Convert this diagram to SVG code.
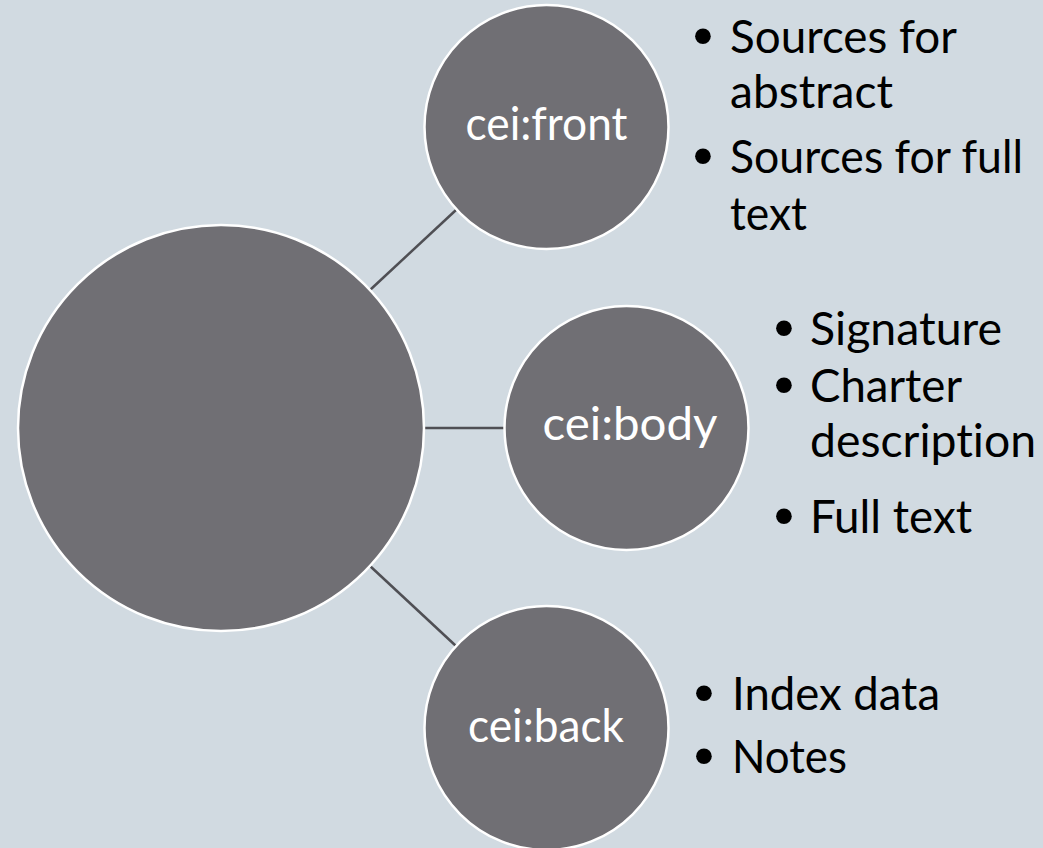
<svg xmlns="http://www.w3.org/2000/svg" width="1043" height="848" viewBox="0 0 1043 848">
  <style>
    .bg { fill: #D1DAE1; }
    .node { fill: #706F74; stroke: #FFFFFF; stroke-width: 2.5; }
    .edge { stroke: #4F4F54; stroke-width: 2.5; fill: none; }
    .label { font-family: Lato, "Open Sans", "Liberation Sans", sans-serif; font-size: 46px; fill: #FFFFFF; text-anchor: middle; font-variant-ligatures: none; }
    .item { font-family: Lato, "Open Sans", "Liberation Sans", sans-serif; font-size: 46px; fill: #000000; font-variant-ligatures: none; }
    .bullet { font-family: "DejaVu Sans", sans-serif; font-size: 54px; fill: #000000; }
  </style>
  <rect class="bg" x="0" y="0" width="1043" height="848"/>

  <g id="connectors">
    <line class="edge" x1="370" y1="290" x2="456" y2="210"/>
    <line class="edge" x1="424" y1="428" x2="505" y2="428"/>
    <line class="edge" x1="370" y1="566" x2="456" y2="646"/>
  </g>

  <g id="root">
    <circle class="node" cx="221" cy="428" r="203"/>
  </g>

  <g id="front">
    <circle class="node" cx="546.5" cy="127" r="122"/>
    <text class="label" x="546.5" y="140" textLength="162" lengthAdjust="spacingAndGlyphs">cei:front</text>
  </g>

  <g id="body">
    <circle class="node" cx="626.5" cy="428" r="122"/>
    <text class="label" x="630" y="440" textLength="175" lengthAdjust="spacingAndGlyphs">cei:body</text>
  </g>

  <g id="back">
    <circle class="node" cx="546.5" cy="728" r="122"/>
    <text class="label" x="546" y="742" textLength="156" lengthAdjust="spacingAndGlyphs">cei:back</text>
  </g>

  <g id="front-list">
    <text class="bullet" x="687" y="56">•</text>
    <text class="item" x="730" y="53" textLength="227" lengthAdjust="spacingAndGlyphs">Sources for</text>
    <text class="item" x="730" y="108" textLength="163" lengthAdjust="spacingAndGlyphs">abstract</text>
    <text class="bullet" x="687" y="176">•</text>
    <text class="item" x="730" y="173" textLength="293" lengthAdjust="spacingAndGlyphs">Sources for full</text>
    <text class="item" x="730" y="230" textLength="77" lengthAdjust="spacingAndGlyphs">text</text>
  </g>

  <g id="body-list">
    <text class="bullet" x="768" y="348">•</text>
    <text class="item" x="810" y="345" textLength="192" lengthAdjust="spacingAndGlyphs">Signature</text>
    <text class="bullet" x="768" y="405">•</text>
    <text class="item" x="810" y="402" textLength="152" lengthAdjust="spacingAndGlyphs">Charter</text>
    <text class="item" x="810" y="457" textLength="226" lengthAdjust="spacingAndGlyphs">description</text>
    <text class="bullet" x="768" y="536">•</text>
    <text class="item" x="810" y="533" textLength="162" lengthAdjust="spacingAndGlyphs">Full text</text>
  </g>

  <g id="back-list">
    <text class="bullet" x="688" y="713">•</text>
    <text class="item" x="732" y="710" textLength="208" lengthAdjust="spacingAndGlyphs">Index data</text>
    <text class="bullet" x="688" y="776">•</text>
    <text class="item" x="732" y="773" textLength="115" lengthAdjust="spacingAndGlyphs">Notes</text>
  </g>
</svg>
